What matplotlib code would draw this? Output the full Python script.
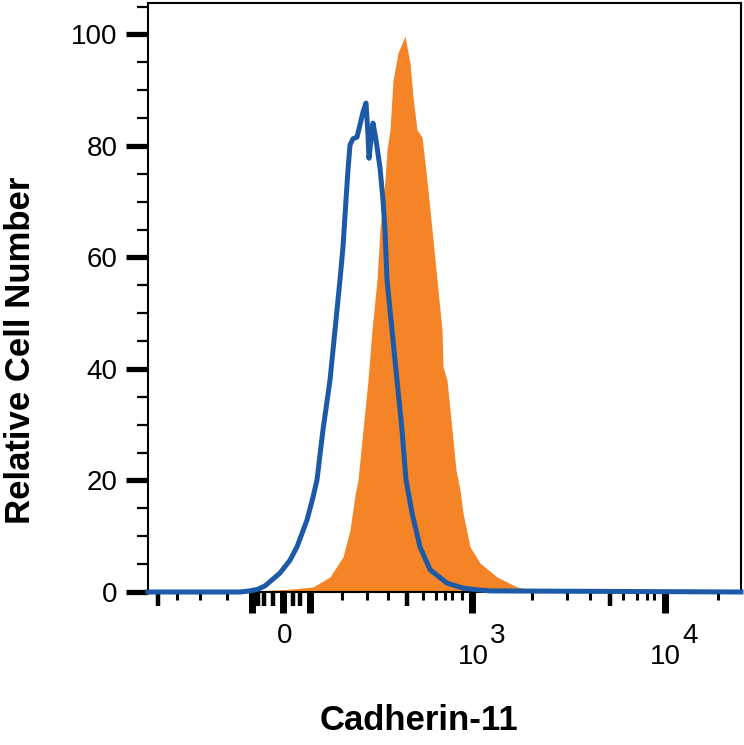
import matplotlib
matplotlib.use("Agg")
import matplotlib.pyplot as plt
import numpy as np

# histogram values (x = display channel, y = % of max)
blue_channel = [0, 92, 102, 110, 117, 132, 142, 149, 159, 165, 169, 175, 182, 187, 192,
                195, 198, 200, 202, 205, 209, 212, 215, 218, 220, 221, 223, 225, 228,
                232, 235, 237, 239, 244, 249, 254, 258, 264, 272, 282, 299, 315, 329,
                342, 593]
blue_count = [0, 0, 0.2, 0.5, 1.1, 3.4, 5.7, 8.1, 12.9, 17.0, 20.1, 29.1, 38.0, 47.0, 56.0,
              61.9, 70.3, 75.7, 80.2, 81.3, 81.6, 83.8, 86.1, 87.7, 82.0, 77.8, 81.1, 84.1,
              81.1, 76.1, 70.3, 64.9, 56.0, 47.0, 38.0, 29.1, 20.1, 14.2, 8.1, 4.0, 1.6,
              0.7, 0.4, 0.2, 0]

orange_channel = [0, 100, 107, 142, 165, 182, 195, 202, 207, 210, 215, 220, 224, 229, 232,
                  237, 239, 242, 245, 250, 257, 262, 265, 269, 274, 277, 280, 284, 289,
                  294, 295, 299, 304, 308, 312, 315, 322, 332, 349, 369, 382, 392, 593]
orange_count = [0, 0, 0.2, 0.5, 0.9, 2.7, 6.3, 11.1, 17.4, 20.1, 29.1, 38.0, 47.0, 56.0,
                65.0, 73.9, 79.3, 82.9, 91.8, 96.7, 99.7, 94.9, 88.8, 82.9, 81.6, 77.0,
                72.1, 65.0, 56.0, 47.0, 40.4, 38.0, 29.1, 21.9, 18.3, 14.2, 8.1, 5.2, 2.7,
                0.9, 0.4, 0, 0]

y_major = [0, 20, 40, 60, 80, 100]
y_minor = list(range(0, 106, 5))

# x axis ticks (biexponential display, in channel units)
x_long = [104, 135, 162, 324, 517]
x_medium = [10, 110, 116, 125, 145, 152, 259, 462]
x_small = [29, 52, 79, 194, 219, 240, 275, 288, 297, 304, 314, 384, 419, 442,
           475, 489, 499, 506, 570]
x_labels = [(137, "0", None), (325, "10", "3"), (517, "10", "4")]

blue = "#1c5aa8"
orange = "#f58426"
tick_font = "Liberation Sans"

fig = plt.figure(figsize=(7.44, 7.45), dpi=100)
ax = fig.add_axes([148 / 744, 1 - 592 / 745, 593 / 744, 589 / 745])

ax.fill_between(orange_channel, orange_count, 0, color=orange, linewidth=0, zorder=2)
ax.plot(blue_channel, blue_count, color=blue, linewidth=3.6, zorder=4, clip_on=False)

ax.set_xlim(0, 593)
ax.set_ylim(0, 105.65)

for s in ax.spines.values():
    s.set_linewidth(1.5)
    s.set_color("black")

ax.set_yticks(y_major)
ax.set_yticklabels([str(v) for v in y_major], fontsize=20, family=tick_font)
ax.set_yticks(y_minor, minor=True)
ax.tick_params(axis="y", which="major", length=16, width=3.8, pad=6, direction="out")
ax.tick_params(axis="y", which="minor", length=8, width=1.6, direction="out")

ax.set_xticks(x_long)
ax.set_xticklabels([])
ax.set_xticks(x_small, minor=True)
ax.tick_params(axis="x", which="major", length=15, width=5, direction="out")
ax.tick_params(axis="x", which="minor", length=6, width=2.2, direction="out")

sec = ax.secondary_xaxis("bottom")
sec.set_xticks(x_medium)
sec.set_xticklabels([])
sec.tick_params(axis="x", length=10, width=3.2, direction="out")
sec.spines["bottom"].set_visible(False)

tr = ax.get_xaxis_transform()
for pos, base, exp in x_labels:
    if exp is None:
        ax.text(pos, -0.0747, base, transform=tr, ha="center", va="center",
                fontsize=20, family=tick_font)
    else:
        ax.text(pos, -0.110, base, transform=tr, ha="center", va="center",
                fontsize=20, family=tick_font)
        ax.text(pos + 25, -0.0747, exp, transform=tr, ha="center", va="center",
                fontsize=20, family=tick_font)

fig.text(21 / 744, 1 - 350 / 745, "Relative Cell Number", rotation=90, ha="center",
         va="center", fontsize=25, fontweight="bold", family="Liberation Sans")
fig.text(419 / 744, 1 - 720 / 745, "Cadherin-11", ha="center", va="center",
         fontsize=25, fontweight="bold", family="Liberation Sans")

fig.savefig("out.png", dpi=100)
